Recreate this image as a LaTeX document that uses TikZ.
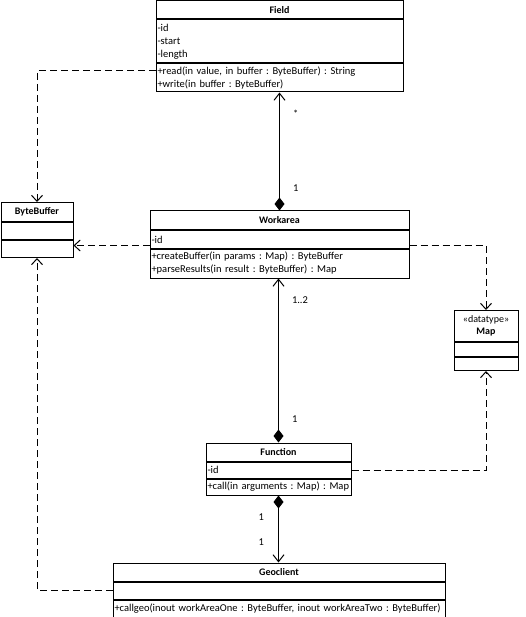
\documentclass[tikz,border=0pt]{standalone}
\usepackage{fontspec}
\setmainfont{Carlito}
\usetikzlibrary{positioning}
\usetikzlibrary{arrows.meta}

\tikzset{
  classname/.style={draw, line width=1pt, inner sep=0pt, minimum height=18pt, font=\bfseries},
  members/.style={draw, line width=1pt, inner xsep=1.5pt, inner ysep=0pt, align=left, text width=#1},
  assoc/.style={line width=1pt, {Diamond[length=13pt,width=10pt]}-{Straight Barb[length=7pt,width=11pt]}},
  dep/.style={line width=1pt, dash pattern=on 7pt off 4pt, -{Straight Barb[length=6pt,width=11pt]}},
  mult/.style={inner sep=0pt}
}

\begin{document}
\frenchspacing
\hyphenpenalty=10000
\begin{tikzpicture}[x=1pt, y=-1pt, font=\fontsize{10.5}{13}\selectfont]
        \useasboundingbox (0,0) rectangle (525,617);

        % classes
        \node[classname, minimum width=247pt] (field) at (279.5,10) {Field};
        \node[members=244pt, minimum height=43pt, below=0pt of field] (fieldattr) {-id\\-start\\-length};
        \node[members=244pt, minimum height=28pt, below=0pt of fieldattr] (fieldops) {+read(in value, in buffer : ByteBuffer) : String\\+write(in buffer : ByteBuffer)};

        \node[classname, minimum width=72pt, minimum height=19pt] (bytebuf) at (37,212) {ByteBuffer};
        \node[members=69pt, minimum height=17pt, below=0pt of bytebuf] (bufattr) {};
        \node[members=69pt, minimum height=17pt, below=0pt of bufattr] (bufops) {};

        \node[classname, minimum width=259pt, minimum height=19pt] (workarea) at (279.5,220.5) {Workarea};
        \node[members=256pt, minimum height=17pt, below=0pt of workarea] (workattr) {-id};
        \node[members=256pt, minimum height=29pt, below=0pt of workattr] (workops) {+createBuffer(in params : Map) : ByteBuffer\\+parseResults(in result : ByteBuffer) : Map};

        \node[classname, minimum width=64pt, minimum height=31pt, align=center] (map) at (486,326) {{\mdseries «datatype»}\\Map};
        \node[members=61pt, minimum height=14pt, below=0pt of map] (mapattr) {};
        \node[members=61pt, minimum height=13pt, below=0pt of mapattr] (mapops) {};

        \node[classname, minimum width=145pt] (function) at (278.5,452) {Function};
        \node[members=142pt, minimum height=16pt, below=0pt of function] (funcattr) {-id};
        \node[members=142pt, minimum height=16pt, below=0pt of funcattr] (funcops) {+call(in arguments : Map) : Map};

        \node[classname, minimum width=332pt] (geoclient) at (279,572) {Geoclient};
        \node[members=329pt, minimum height=17pt, below=0pt of geoclient] (geoattr) {};
        \node[members=329pt, minimum height=17pt, below=0pt of geoattr] (geoops) {+callgeo(inout workAreaOne : ByteBuffer, inout workAreaTwo : ByteBuffer)};

        % compositions
        \draw[assoc] (workarea.north) -- (workarea.north |- fieldops.south)
            node[mult, pos=.19, right=13pt] {1}
            node[mult, pos=.82, right=13pt] {*};
        \draw[assoc] (function.north) -- (function.north |- workops.south)
            node[mult, pos=.14, right=13pt] {1}
            node[mult, pos=.87, right=13pt] {1..2};
        \draw[assoc] (funcops.south) -- (funcops.south |- geoclient.north)
            node[mult, pos=.33, left=14pt] {1}
            node[mult, pos=.70, left=14pt] {1};

        % dependencies
        \coordinate (wl) at ([yshift=3pt]workattr.south west);
        \coordinate (wr) at ([yshift=3pt]workattr.south east);
        \draw[dep] ([yshift=-7pt]fieldops.north west) -| (bytebuf.north);
        \draw[dep] (wl) -- (wl -| bufops.east);
        \draw[dep] (wr) -| (map.north);
        \draw[dep] (funcattr.east) -| (mapops.south);
        \draw[dep] (geoattr.west) -| (bufops.south);
    \end{tikzpicture}
\end{document}
